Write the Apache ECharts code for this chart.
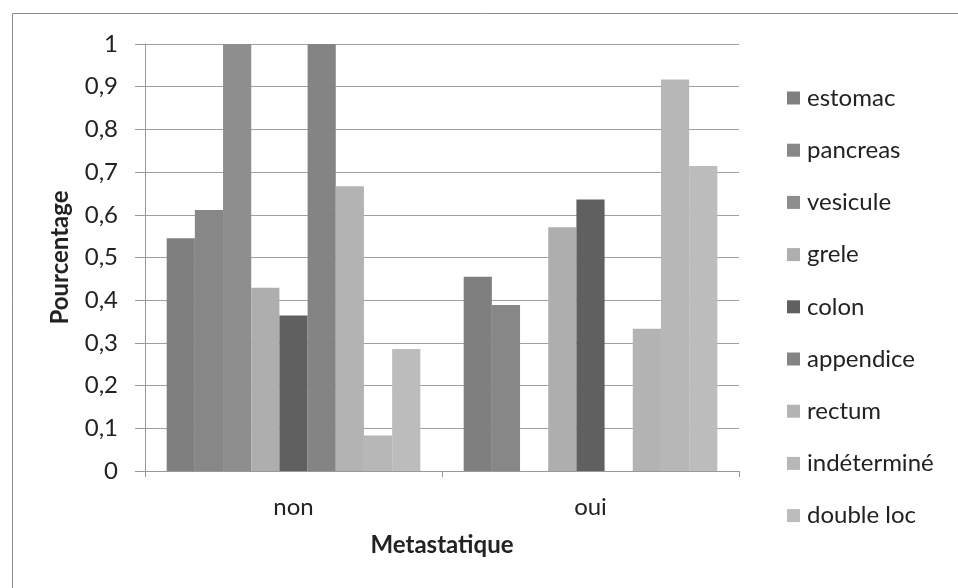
<!DOCTYPE html>
<html>
<head>
<meta charset="utf-8">
<script src="https://cdn.jsdelivr.net/npm/echarts@6/dist/echarts.min.js"></script>
<style>
html,body{margin:0;padding:0;background:#fff;}
#c{width:958px;height:588px;}
</style>
</head>
<body>
<div id="c"></div>
<script>
const categories = ['non', 'oui'];
const seriesNames = ['estomac', 'pancreas', 'vesicule', 'grele', 'colon', 'appendice', 'rectum', 'indéterminé', 'double loc'];
const estomac = [0.545, 0.455];
const pancreas = [0.611, 0.389];
const vesicule = [1, 0];
const grele = [0.429, 0.571];
const colon = [0.364, 0.636];
const appendice = [1, 0];
const rectum = [0.667, 0.333];
const indetermine = [0.083, 0.917];
const doubleLoc = [0.286, 0.714];
const seriesValues = [estomac, pancreas, vesicule, grele, colon, appendice, rectum, indetermine, doubleLoc];
const colors = ['#7f7f7f', '#878787', '#8e8e8e', '#aeaeae', '#606060', '#848484', '#b3b3b3', '#b7b7b7', '#bcbcbc'];

const FONT = 'Lato, "Open Sans", sans-serif';
const chart = echarts.init(document.getElementById('c'), null, {renderer: 'canvas'});
chart.setOption({
  animation: false,
  backgroundColor: '#fff',
  graphic: [{
    type: 'rect', left: 10, top: 11,
    shape: {width: 1000, height: 700},
    style: {fill: 'none', stroke: '#8c8c8c', lineWidth: 1}
  }],
  grid: {left: 145, right: 219, top: 44, bottom: 117},
  legend: {
    orient: 'vertical',
    left: 787, top: 86,
    padding: 0,
    icon: 'rect',
    itemWidth: 13, itemHeight: 13,
    itemGap: 28.2,
    textStyle: {fontFamily: FONT, fontSize: 24, color: '#222', lineHeight: 24, padding: [0, 0, 0, 2]},
    data: seriesNames
  },
  xAxis: {
    type: 'category',
    data: categories,
    name: 'Metastatique',
    nameLocation: 'middle',
    nameGap: 62,
    nameTextStyle: {fontFamily: FONT, fontSize: 24, fontWeight: 'bold', color: '#222'},
    axisLine: {lineStyle: {color: '#999', width: 1}},
    axisTick: {show: true, length: 6, lineStyle: {color: '#999'}},
    axisLabel: {fontFamily: FONT, fontSize: 24, color: '#222', margin: 24},
    splitLine: {show: false}
  },
  yAxis: {
    type: 'value',
    min: 0, max: 1, interval: 0.1,
    name: 'Pourcentage',
    nameLocation: 'middle',
    nameGap: 73,
    nameTextStyle: {fontFamily: FONT, fontSize: 24, fontWeight: 'bold', color: '#222'},
    axisLine: {show: true, lineStyle: {color: '#999', width: 1}},
    axisTick: {show: true, length: 10, lineStyle: {color: '#999'}},
    axisLabel: {
      fontFamily: FONT, fontSize: 24, color: '#222', margin: 27,
      formatter: v => String(Math.round(v * 10) / 10).replace('.', ',')
    },
    splitLine: {lineStyle: {color: '#a0a0a0', width: 1}}
  },
  series: seriesNames.map((n, i) => ({
    name: n,
    type: 'bar',
    data: seriesValues[i],
    barGap: '0%',
    barCategoryGap: '14.6%',
    itemStyle: {color: colors[i]}
  }))
});
</script>
</body>
</html>
